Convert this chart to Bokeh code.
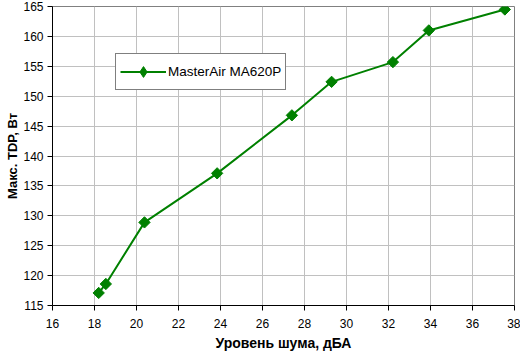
import numpy as np
from bokeh.plotting import figure
from bokeh.models import Legend, LegendItem, FixedTicker, ColumnDataSource
from bokeh.embed import file_html
from bokeh.resources import INLINE

# Data
noise_dba = [18.2, 18.54, 20.38, 23.84, 27.40, 29.29, 32.21, 33.92, 37.54]
max_tdp_w = [117.1, 118.6, 128.9, 137.1, 146.8, 152.4, 155.7, 161.0, 164.5]
series_name = "MasterAir MA620P"
x_ticks = [16, 18, 20, 22, 24, 26, 28, 30, 32, 34, 36, 38]
y_ticks = [115, 120, 125, 130, 135, 140, 145, 150, 155, 160, 165]
x_title = "Уровень шума, дБА"
y_title = "Макс. TDP, Вт"

FONT = "Liberation Sans"
GREEN = "#008000"

src = ColumnDataSource(dict(x=noise_dba, y=max_tdp_w))

p = figure(width=520, height=353, output_backend="svg", toolbar_location=None,
           x_range=(16, 38), y_range=(115, 165),
           min_border_left=52, min_border_right=6, min_border_top=6, min_border_bottom=45)

p.background_fill_color = "white"
p.border_fill_color = "white"
p.outline_line_color = "#808080"
p.outline_line_width = 1

ln = p.line("x", "y", source=src, line_color=GREEN, line_width=2)
sc = p.scatter("x", "y", source=src, marker="square", angle=np.pi / 4, size=8,
               fill_color=GREEN, line_color=GREEN)
# legend-only marker (a NaN point is not drawn) so the legend shows a diamond
leg_marker = p.scatter(x=[np.nan], y=[np.nan], marker="diamond", size=12,
                       fill_color=GREEN, line_color=GREEN)

for ax, ticks in ((p.xaxis[0], x_ticks), (p.yaxis[0], y_ticks)):
    ax.ticker = FixedTicker(ticks=ticks)
    ax.minor_tick_line_color = None
    ax.major_tick_out = 5
    ax.major_tick_in = 0
    ax.axis_line_color = "black"
    ax.major_tick_line_color = "black"
    ax.major_label_text_font = FONT
    ax.major_label_text_font_size = "12px"
    ax.major_label_text_color = "black"
    ax.axis_label_text_font = FONT
    ax.axis_label_text_font_size = "14px"
    ax.axis_label_text_font_style = "bold"
    ax.axis_label_text_color = "black"

p.xaxis.axis_label = x_title
p.yaxis.axis_label = y_title
p.yaxis.axis_label_text_font_size = "13px"
p.xaxis.major_label_standoff = 8
p.yaxis.major_label_standoff = 4
p.xaxis.axis_label_standoff = 4
p.yaxis.axis_label_standoff = 0

p.grid.grid_line_color = "#c0c0c0"
p.grid.grid_line_width = 1

legend = Legend(items=[LegendItem(label=series_name, renderers=[ln, leg_marker])],
                location=(63, 215), padding=4, margin=0,
                glyph_width=46, glyph_height=27, label_height=27, label_width=100,
                label_standoff=2, border_line_color="black", border_line_width=1,
                background_fill_color="white", background_fill_alpha=1,
                label_text_font=FONT, label_text_font_size="13.5px", label_text_color="black")
p.add_layout(legend, "center")

open("out.html", "w").write(file_html(p, INLINE))
